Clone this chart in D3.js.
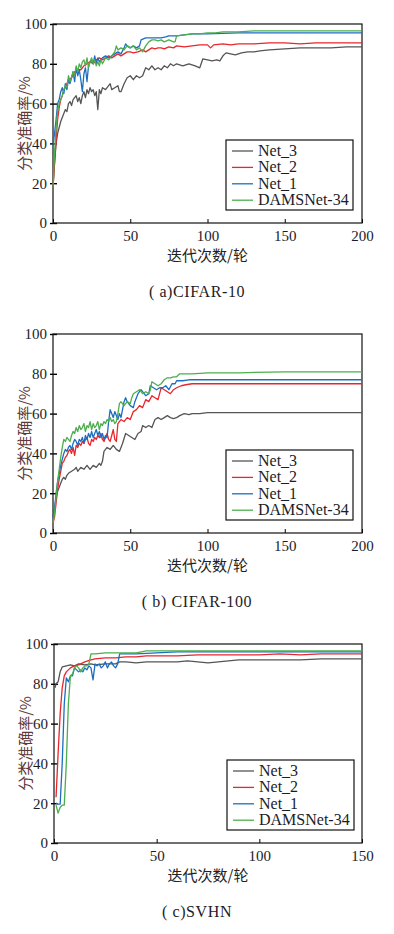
<!DOCTYPE html>
<html>
<head>
<meta charset="utf-8">
<script src="https://cdn.jsdelivr.net/npm/d3@7"></script>
<style>
  body { margin: 0; background: #fff; }
  svg { display: block; }
</style>
</head>
<body>
<div id="chart"><svg width="394" height="934"></svg></div>
<script>
// ---- data: [epoch, accuracy %] ----
const seriesNames = ["Net_3", "Net_2", "Net_1", "DAMSNet-34"];
const seriesColors = ["#555555", "#e8262c", "#1b6ec2", "#4cae4c"];
const yTicks = [0, 20, 40, 60, 80, 100];
const xTicksLong = [0, 50, 100, 150, 200];
const xTicksShort = [0, 50, 100, 150];
const captions = ["( a)CIFAR-10", "( b) CIFAR-100", "( c)SVHN"];

const cifar10Net3 = [[0,18],[1,30],[2,40],[3,45],[4,48],[5,51],[6,53],[7,55],[8,57],[9,56],[10,60],[11,61],[12,59],[13,62],[14,63],[15,64],[16,61],[17,63],[18,60],[19,64],[20,66],[21,63],[22,67],[23,65],[24,68],[25,66],[26,67],[27,64],[28,66],[29,57],[30,67],[31,65],[32,68],[34,67],[36,69],[37,70],[38,67],[40,68],[42,69],[43,66],[44,66],[46,70],[48,73],[50,74],[52,72],[54,74],[56,73],[58,74],[60,78],[62,77],[64,79],[66,77],[68,78],[70,77],[72,79],[74,78],[76,80],[78,79],[80,80],[84,79],[88,80],[92,79],[95,78],[97,82.5],[100,82],[103,81.5],[106,82],[108,81.5],[110,84],[112,85.5],[115,85],[118,84.5],[122,85.5],[126,86],[130,86],[134,86.5],[140,87],[150,87.5],[160,88],[170,88],[180,88],[190,88.5],[200,88.5]];
const cifar10Net2 = [[0,18],[1,30],[2,42],[3,52],[4,58],[5,62],[6,64],[7,67],[8,68],[9,70],[10,72],[12,73],[14,76],[16,77],[18,77],[20,79],[22,80],[24,81],[26,80],[28,82],[30,83],[32,82],[34,83],[36,84],[38,83],[40,84],[42,85],[44,84],[46,85],[48,86],[50,86],[52,85.5],[55,86],[58,87],[60,86],[62,87],[64,88],[66,87.5],[68,88],[70,88],[72,87.5],[75,88.5],[78,88],[80,89],[85,88.5],[90,89],[95,89.5],[100,89.5],[102,88],[104,89.5],[110,90],[115,89.5],[120,90],[130,90],[140,90.5],[150,90.5],[160,90],[170,90.5],[180,90.5],[190,90.5],[200,90.5]];
const cifar10Net1 = [[0,39],[1,45],[2,52],[3,60],[4,62],[5,66],[6,68],[7,65],[8,70],[9,67],[10,72],[11,70],[12,73],[13,76],[14,71],[15,78],[16,74],[17,77],[18,72],[19,66],[20,75],[21,78],[22,71],[23,79],[24,81],[25,82],[26,80],[27,84],[28,80],[29,83],[30,81],[32,83],[34,84],[36,83],[38,84],[40,85],[42,86],[44,85],[46,88],[47,90],[48,89],[50,88],[52,89],[54,88],[56,89],[57,92],[60,93],[65,93],[70,93],[73,93.5],[75,94],[80,94],[85,94.5],[90,95],[100,95],[120,95.5],[150,95.5],[200,95.5]];
const cifar10Dams = [[0,18],[1,35],[2,48],[3,56],[4,60],[5,62],[6,64],[7,67],[8,69],[9,68],[10,74],[11,71],[12,73],[13,76],[14,74],[15,79],[16,76],[17,80],[18,78],[19,81],[20,82],[21,79],[22,83],[23,78],[24,81],[25,83],[26,80],[27,82],[28,79],[29,81],[30,79],[31,82],[32,80],[34,83],[36,82],[38,84],[40,86],[41,89],[42,87],[44,88],[46,87],[48,89],[50,88],[52,89],[54,87],[56,88],[58,86],[60,89],[62,91],[64,92],[66,92],[68,91.5],[70,92],[72,91],[75,92],[78,91],[79,91],[80,94],[85,94.5],[90,95],[95,95],[100,95.5],[105,95.5],[110,96],[120,96],[130,96.5],[150,96.5],[170,96.5],[200,96.5]];

const cifar100Net3 = [[0,8],[1,12],[2,18],[3,21],[4,23],[5,25],[6,27],[7,28],[8,27],[9,29],[10,30],[12,31],[14,32],[15,33],[16,31],[18,33],[20,32],[22,34],[24,32],[26,34],[28,33],[30,35],[31,34],[32,36],[33,41],[35,43],[37,42],[39,44],[41,42],[43,41],[45,45],[47,50],[49,49],[51,48],[53,47],[55,50],[57,51],[58,54],[60,53],[62,54],[64,53],[66,57],[68,58],[70,57],[72,58],[74,59],[76,58],[78,57.5],[80,58],[82,59],[85,60],[88,59.5],[90,60],[95,60],[100,60.5],[110,60.5],[130,60.5],[150,60.5],[175,60.5],[200,60.5]];
const cifar100Net2 = [[0,5],[1,8],[2,15],[3,22],[4,27],[5,31],[6,35],[7,36],[8,38],[9,39],[10,41],[11,42],[12,40],[13,43],[14,39],[15,44],[16,43],[17,45],[18,44],[19,46],[20,45],[21,47],[22,48],[23,45],[24,44],[25,47],[26,46],[27,48],[28,47],[29,49],[30,48],[31,50],[32,47],[33,46],[34,48],[35,50],[36,47],[37,46],[38,49],[39,52],[40,47],[41,46],[42,55],[44,57],[46,56],[48,58],[50,57],[52,61],[54,62],[56,64],[58,63],[60,67],[62,66],[64,69],[66,68],[68,67],[69,70],[70,73],[72,72],[74,71],[76,70],[78,72],[80,73],[83,74],[86,74.5],[90,75],[100,75],[120,75],[150,75],[200,75]];
const cifar100Net1 = [[0,8],[1,12],[2,20],[3,26],[4,30],[5,34],[6,37],[7,40],[8,42],[9,41],[10,43],[11,44],[12,42],[13,45],[14,47],[15,46],[16,44],[17,47],[18,46],[19,48],[20,45],[21,49],[22,47],[23,50],[24,48],[25,51],[26,48],[27,50],[28,52],[29,49],[30,51],[31,48],[32,50],[33,47],[34,49],[35,48],[36,56],[37,62],[38,60],[39,58],[40,61],[41,59],[42,57],[43,60],[44,58],[45,62],[46,66],[47,68],[48,66],[50,64],[52,63],[53,66],[55,70],[56,71],[57,72],[58,71],[60,69],[62,70],[63,74],[65,73],[67,72],[69,73],[71,73],[73,74],[75,72],[77,75],[79,75],[80,76.5],[84,76.5],[88,77],[95,77],[110,77],[150,77],[200,77]];
const cifar100Dams = [[0,5],[1,10],[2,18],[3,26],[4,32],[5,38],[6,43],[7,47],[8,46],[9,48],[10,47],[11,46],[12,49],[13,51],[14,50],[15,53],[16,51],[17,54],[18,52],[19,53],[20,55],[21,51],[22,54],[23,53],[24,56],[25,52],[26,55],[27,53],[28,54],[29,56],[30,52],[31,55],[32,54],[33,56],[34,55],[35,57],[36,56],[37,58],[38,56],[39,57],[40,55],[41,56],[42,60],[43,65],[44,66],[46,64],[48,66],[50,65],[51,68],[52,70],[54,71],[56,72],[58,70],[60,71],[62,70],[63,72],[64,76],[66,75],[68,74],[70,75],[72,77],[74,78],[76,78],[78,78.5],[80,78.5],[82,80],[86,80],[90,80],[100,80.5],[120,80.5],[150,81],[200,81]];

const svhnNet3 = [[0.5,78],[1,80],[2,81],[3,86],[4,88.5],[6,89],[8,89.5],[10,89],[12,90],[15,89.5],[18,90],[20,89.5],[25,90],[30,90],[32,91],[35,91],[40,90.5],[45,91],[50,91],[55,91],[60,91],[65,91.5],[70,91],[75,90.5],[80,91],[85,91.5],[90,92],[100,92],[110,92],[120,92],[130,92.5],[140,92.5],[150,92.5]];
const svhnNet2 = [[1,23],[2,45],[3,65],[4,78],[5,84],[6,86],[7,87],[8,88],[10,89],[12,89.5],[15,91],[18,92],[20,92.5],[25,93],[30,93],[35,93.5],[40,93.5],[45,94],[50,94],[60,94],[70,94.5],[80,94.5],[90,94.5],[100,94.5],[110,95],[120,94.5],[130,95],[140,95],[150,95]];
const svhnNet1 = [[1,20],[2,19.5],[3,19.5],[4,40],[5,70],[6,83],[7,81],[8,84],[9,84],[10,88],[11,87],[12,86],[13,87],[14,86],[15,88],[16,87],[17,89],[18,88],[19,82],[20,90],[21,89],[22,90],[23,88],[24,89],[25,91],[26,88],[27,90],[28,91],[29,89],[30,88],[31,90],[32,95],[35,95],[40,95],[50,95.5],[60,96],[80,96],[100,96],[120,96],[150,96]];
const svhnDams = [[1,19],[2,15],[3,18],[4,19],[5,19],[6,40],[7,70],[8,84],[9,85],[10,88],[11,89],[12,88],[13,86],[14,88],[15,89],[16,89],[17,90],[18,95],[20,95],[25,95.5],[30,95.5],[35,95.5],[40,95.5],[45,96.5],[50,96.5],[75,96.5],[100,96.5],[125,96.5],[150,96.5]];


function drawPanel(svg, cfg) {

    /***** BASIC SETUP *****/
    const left = cfg.left, right = 362;
    const top = cfg.top, bottom = cfg.top + 199;

    const g = svg.append("g").attr("class", "panel");

    let xScale = d3.scaleLinear()
        .domain([0, cfg.xMax])
        .range([left, right]);

    let yScale = d3.scaleLinear()
        .domain([0, 100])
        .range([bottom, top]);

    /***** AXES *****/
    let xAxis = d3.axisBottom(xScale)
        .tickValues(cfg.xTicks)
        .tickSize(-4)
        .tickPadding(7)
        .tickFormat(d3.format("d"));

    let yAxis = d3.axisLeft(yScale)
        .tickValues(yTicks)
        .tickSize(-4)
        .tickPadding(6)
        .tickFormat(d3.format("d"));

    g.append("g")
        .attr("transform", "translate(0," + bottom + ")")
        .call(xAxis)
        .call(a => a.select(".domain").remove())
        .selectAll("text")
        .style("font", "15px 'Liberation Serif'")
        .style("fill", "#1c1c28");

    let yG = g.append("g")
        .attr("transform", "translate(" + left + ",0)")
        .call(yAxis)
        .call(a => a.select(".domain").remove());
    yG.selectAll("text")
        .style("font", "15px 'Liberation Serif'")
        .style("fill", "#1c1c28");
    // ticks cross the axis line a little
    yG.selectAll(".tick line").attr("x1", -3).attr("x2", 4).attr("stroke-width", 1.4);

    // frame
    g.append("rect")
        .attr("x", left)
        .attr("y", top)
        .attr("width", right - left)
        .attr("height", bottom - top)
        .attr("fill", "none")
        .attr("stroke", "#111")
        .attr("stroke-width", 1.2);

    /***** LINES *****/
    let line = d3.line()
        .x(d => xScale(d[0]))
        .y(d => yScale(d[1]));

    g.selectAll(".accLine")
        .data(cfg.series)
        .enter()
        .append("path")
        .attr("class", "accLine")
        .attr("d", d => line(d))
        .attr("fill", "none")
        .attr("stroke", (d, i) => seriesColors[i])
        .attr("stroke-width", 1.3)
        .attr("stroke-linejoin", "round");

    /***** LEGEND *****/
    const lg = g.append("g").attr("transform", "translate(" + (left + 173) + "," + (top + 116) + ")");
    lg.append("rect")
        .attr("width", 127)
        .attr("height", 70)
        .attr("fill", "#fff")
        .attr("stroke", "#111")
        .attr("stroke-width", 1.2);

    let rows = lg.selectAll(".legRow")
        .data(seriesNames)
        .enter()
        .append("g")
        .attr("class", "legRow")
        .attr("transform", (d, i) => "translate(0," + (11 + i * 16.4) + ")");

    rows.append("line")
        .attr("x1", 6).attr("x2", 27)
        .attr("stroke", (d, i) => seriesColors[i])
        .attr("stroke-width", 1.3);

    rows.append("text")
        .attr("x", 32)
        .attr("y", 5)
        .style("font", "16px 'Liberation Serif'")
        .style("fill", "#1c1c28")
        .text(d => d);

    /***** TITLES *****/
    g.append("text")
        .attr("x", (left + right) / 2)
        .attr("y", bottom + 38)
        .attr("text-anchor", "middle")
        .style("font", "15px 'Noto Sans CJK SC'")
        .style("fill", "#222")
        .text("迭代次数/轮");

    g.append("text")
        .attr("transform", "translate(" + (left - 23) + "," + ((top + bottom) / 2) + ") rotate(-90)")
        .attr("text-anchor", "middle")
        .style("font", "15px 'Noto Sans CJK SC'")
        .style("fill", "#5e3838")
        .text("分类准确率/%");

    g.append("text")
        .attr("x", 197)
        .attr("y", bottom + 74)
        .attr("text-anchor", "middle")
        .style("font", "16px 'Liberation Serif'")
        .style("letter-spacing", "0.6px")
        .style("fill", "#1c1c28")
        .text(cfg.caption);
}

const svg = d3.select("#chart").select("svg");

drawPanel(svg, {top: 24, left: 53, xMax: 200, xTicks: xTicksLong, caption: captions[0],
    series: [cifar10Net3, cifar10Net2, cifar10Net1, cifar10Dams]});
drawPanel(svg, {top: 334, left: 53, xMax: 200, xTicks: xTicksLong, caption: captions[1],
    series: [cifar100Net3, cifar100Net2, cifar100Net1, cifar100Dams]});
drawPanel(svg, {top: 644, left: 54, xMax: 150, xTicks: xTicksShort, caption: captions[2],
    series: [svhnNet3, svhnNet2, svhnNet1, svhnDams]});
</script>
</body>
</html>
